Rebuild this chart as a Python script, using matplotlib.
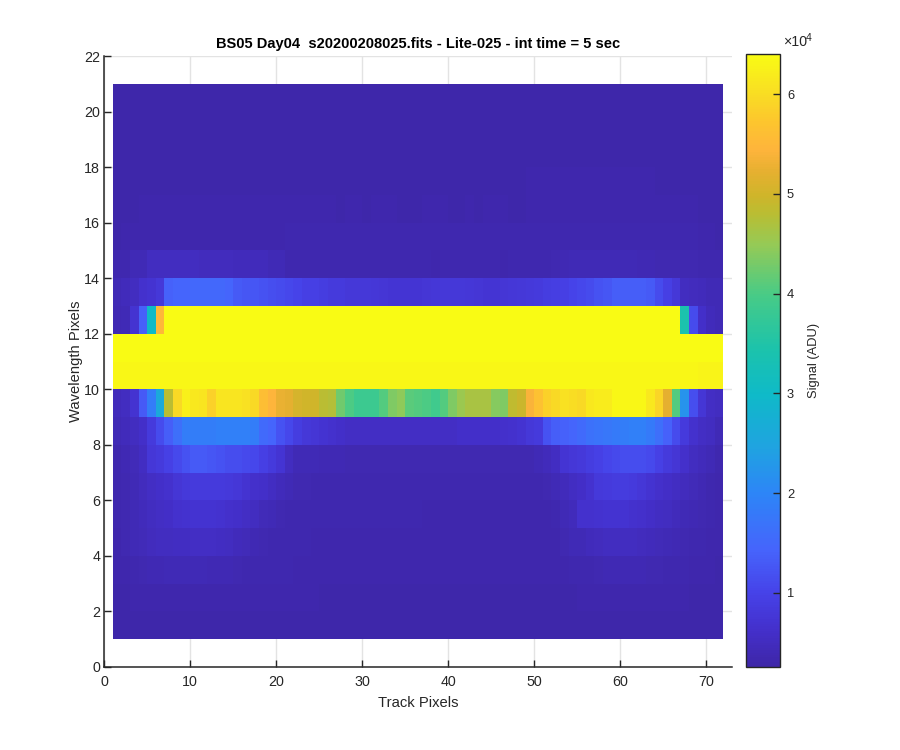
import matplotlib
matplotlib.use('Agg')
import matplotlib.pyplot as plt
from matplotlib.colors import LinearSegmentedColormap
import numpy as np

plt.rcParams['font.family'] = ['Liberation Sans', 'DejaVu Sans']

# signal per cell, in units of 1e4 ADU, one list per wavelength pixel (bottom up), track pixels 1..71
row_01 = [.29, .29, .29, .29, .29, .29, .29, .29, .29, .30, .30, .30, .30, .30, .30, .30, .30, .30, .30, .30,
          .30, .30, .30, .30, .30, .30, .30, .30, .30, .30, .30, .30, .30, .30, .30, .30, .30, .30, .30, .30,
          .30, .30, .30, .30, .30, .30, .30, .30, .30, .30, .30, .30, .30, .30, .30, .30, .30, .30, .30, .30,
          .30, .30, .30, .30, .30, .30, .30, .30, .30, .30, .30]
row_02 = [.30, .30, .31, .31, .31, .31, .32, .32, .32, .32, .32, .32, .32, .32, .32, .32, .31, .31, .31, .31,
          .31, .31, .31, .31, .30, .30, .30, .30, .30, .30, .30, .30, .30, .30, .30, .30, .30, .30, .30, .30,
          .30, .30, .30, .30, .30, .30, .30, .30, .30, .30, .30, .30, .30, .30, .31, .31, .31, .31, .31, .31,
          .31, .31, .31, .31, .31, .31, .31, .30, .30, .30, .30]
row_03 = [.31, .32, .34, .36, .38, .39, .40, .40, .40, .40, .40, .39, .39, .38, .36, .35, .33, .33, .33, .33,
          .33, .32, .32, .32, .31, .31, .31, .31, .31, .31, .31, .31, .31, .31, .31, .31, .31, .31, .31, .31,
          .31, .31, .31, .31, .31, .31, .31, .31, .31, .31, .32, .32, .32, .33, .34, .34, .37, .38, .38, .38,
          .38, .38, .36, .36, .34, .33, .33, .32, .32, .31, .30]
row_04 = [.32, .36, .40, .44, .48, .50, .51, .52, .54, .55, .55, .55, .52, .50, .47, .44, .39, .37, .35, .34,
          .33, .33, .33, .32, .32, .32, .32, .32, .32, .32, .32, .32, .32, .32, .32, .32, .31, .31, .31, .31,
          .31, .31, .31, .31, .31, .31, .31, .31, .31, .31, .31, .31, .37, .40, .41, .46, .49, .50, .50, .50,
          .50, .48, .46, .43, .41, .39, .37, .35, .33, .32, .31]
row_05 = [.33, .37, .40, .45, .50, .55, .58, .64, .67, .69, .69, .69, .68, .63, .60, .55, .50, .44, .41, .37,
          .34, .34, .34, .33, .33, .33, .33, .33, .33, .33, .33, .33, .33, .33, .33, .33, .32, .32, .32, .32,
          .32, .32, .32, .32, .32, .32, .32, .32, .32, .32, .32, .33, .42, .47, .64, .66, .68, .70, .70, .70,
          .66, .63, .59, .53, .50, .46, .41, .38, .36, .33, .31]
row_06 = [.33, .37, .42, .48, .55, .60, .66, .74, .82, .85, .85, .85, .84, .81, .77, .69, .63, .60, .52, .47,
          .40, .36, .36, .35, .35, .35, .34, .34, .34, .34, .34, .34, .34, .34, .34, .34, .33, .33, .33, .33,
          .33, .33, .33, .33, .33, .33, .33, .33, .33, .35, .36, .41, .47, .53, .59, .67, .81, .85, .87, .87,
          .84, .77, .69, .63, .58, .52, .49, .43, .38, .35, .32]
row_07 = [.35, .38, .43, .52, .76, .85, .97, 1.08, 1.2, 1.3, 1.3, 1.25, 1.2, 1.13, 1.13, 1.08, 1.05, .95, .84, .72,
          .50, .42, .40, .40, .38, .38, .38, .37, .37, .37, .37, .37, .37, .37, .37, .36, .36, .36, .36, .36,
          .36, .36, .36, .36, .36, .36, .36, .36, .36, .40, .45, .53, .72, .76, .81, .88, .97, 1.03, 1.08, 1.14,
          1.14, 1.14, 1.08, .96, .84, .75, .62, .50, .45, .40, .33]
row_08 = [.42, .45, .50, .60, .85, 1.1, 1.35, 1.6, 1.85, 1.85, 1.85, 1.85, 1.9, 1.9, 1.9, 1.9, 1.85, 1.55, 1.45, 1.2,
          1.05, .90, .80, .75, .70, .65, .60, .55, .55, .55, .55, .55, .55, .55, .55, .55, .55, .55, .55, .55,
          .60, .60, .60, .60, .60, .62, .65, .70, .80, .85, 1.2, 1.35, 1.4, 1.45, 1.55, 1.65, 1.7, 1.75, 1.8, 1.85,
          1.9, 1.9, 1.8, 1.6, 1.4, 1.1, .85, .65, .55, .50, .42]
row_09 = [.45, .50, .70, 1.3, 1.85, 2.6, 4.8, 5.95, 6.25, 6.15, 6.1, 5.85, 6.1, 6.1, 6.1, 6.05, 5.95, 5.6, 5.45, 5.25,
          5.2, 5.05, 5.0, 5.0, 4.8, 4.75, 4.25, 4.0, 3.85, 3.85, 3.85, 4.05, 4.35, 4.45, 4.1, 4.05, 4.0, 3.9, 4.05, 4.35,
          4.55, 4.65, 4.65, 4.65, 4.4, 4.35, 4.85, 4.95, 5.4, 5.65, 5.85, 5.95, 6.05, 6.0, 5.95, 6.15, 6.2, 6.2, 6.35, 6.35,
          6.35, 6.35, 6.15, 5.9, 5.2, 4.05, 2.2, 1.15, .75, .55, .50]
row_10 = [6.35, 6.35, 6.35, 6.35, 6.35, 6.35, 6.35, 6.35, 6.35, 6.35, 6.35, 6.35, 6.35, 6.35, 6.35, 6.35, 6.35, 6.35, 6.35, 6.35,
          6.35, 6.35, 6.35, 6.35, 6.35, 6.33, 6.33, 6.33, 6.33, 6.33, 6.33, 6.33, 6.33, 6.33, 6.33, 6.33, 6.33, 6.33, 6.33, 6.33,
          6.33, 6.33, 6.33, 6.33, 6.33, 6.33, 6.33, 6.33, 6.33, 6.33, 6.33, 6.33, 6.33, 6.33, 6.33, 6.33, 6.33, 6.33, 6.33, 6.33,
          6.33, 6.33, 6.33, 6.33, 6.33, 6.33, 6.33, 6.33, 6.3, 6.3, 6.3]
row_11 = [6.4, 6.4, 6.4, 6.4, 6.4, 6.4, 6.4, 6.4, 6.4, 6.4, 6.4, 6.4, 6.4, 6.4, 6.4, 6.4, 6.4, 6.4, 6.4, 6.4,
          6.4, 6.4, 6.4, 6.4, 6.4, 6.4, 6.4, 6.4, 6.4, 6.4, 6.4, 6.4, 6.4, 6.4, 6.4, 6.4, 6.4, 6.4, 6.4, 6.4,
          6.4, 6.4, 6.4, 6.4, 6.4, 6.4, 6.4, 6.4, 6.4, 6.4, 6.4, 6.4, 6.4, 6.4, 6.4, 6.4, 6.4, 6.4, 6.4, 6.4,
          6.4, 6.4, 6.4, 6.4, 6.4, 6.4, 6.4, 6.4, 6.4, 6.4, 6.4]
row_12 = [.38, .40, .70, 1.4, 3.0, 5.5, 6.4, 6.4, 6.4, 6.4, 6.4, 6.4, 6.4, 6.4, 6.4, 6.4, 6.4, 6.4, 6.4, 6.4,
          6.4, 6.4, 6.4, 6.4, 6.4, 6.4, 6.4, 6.4, 6.4, 6.4, 6.4, 6.4, 6.4, 6.4, 6.4, 6.4, 6.4, 6.4, 6.4, 6.4,
          6.4, 6.4, 6.4, 6.4, 6.4, 6.4, 6.4, 6.4, 6.4, 6.4, 6.4, 6.4, 6.4, 6.4, 6.4, 6.4, 6.4, 6.4, 6.4, 6.4,
          6.4, 6.4, 6.4, 6.4, 6.4, 6.4, 3.4, 1.1, .60, .45, .42]
row_13 = [.42, .45, .50, .65, .70, .80, 1.4, 1.45, 1.45, 1.5, 1.5, 1.5, 1.5, 1.45, 1.3, 1.25, 1.25, 1.2, 1.15, 1.1,
          1.05, 1.0, .95, .95, .90, .85, .85, .80, .80, .80, .78, .75, .72, .72, .72, .72, .75, .78, .80, .80,
          .80, .78, .75, .72, .72, .75, .78, .80, .82, .85, .88, .92, .95, 1.0, 1.05, 1.1, 1.2, 1.25, 1.35, 1.35,
          1.35, 1.35, 1.3, 1.1, .95, .80, .50, .48, .45, .42, .42]
row_14 = [.33, .35, .40, .42, .50, .50, .50, .50, .50, .50, .48, .48, .48, .48, .45, .45, .45, .45, .42, .42,
          .35, .35, .35, .34, .34, .34, .34, .34, .34, .34, .34, .34, .34, .34, .34, .34, .34, .31, .34, .34,
          .34, .34, .34, .34, .34, .31, .34, .34, .34, .34, .35, .36, .38, .40, .40, .40, .42, .42, .42, .42,
          .40, .38, .38, .37, .37, .36, .36, .36, .35, .35, .33]
row_15 = [.30, .31, .31, .32, .32, .32, .32, .32, .32, .32, .32, .32, .32, .32, .32, .32, .32, .32, .32, .32,
          .33, .33, .33, .33, .33, .33, .33, .33, .33, .33, .33, .33, .33, .33, .33, .33, .33, .33, .33, .33,
          .33, .33, .33, .33, .33, .33, .33, .33, .33, .33, .33, .33, .34, .34, .34, .34, .34, .34, .34, .34,
          .33, .33, .33, .33, .33, .33, .33, .33, .32, .31, .30]
row_16 = [.30, .30, .30, .31, .31, .31, .31, .31, .31, .31, .31, .31, .31, .31, .31, .31, .31, .31, .31, .31,
          .31, .31, .31, .31, .31, .31, .30, .31, .31, .30, .31, .31, .31, .30, .30, .30, .31, .31, .31, .30,
          .30, .31, .30, .31, .31, .31, .30, .30, .31, .31, .31, .31, .31, .31, .31, .31, .31, .31, .31, .31,
          .31, .31, .31, .31, .31, .31, .31, .31, .30, .30, .30]
row_17 = [.30, .30, .30, .30, .30, .30, .30, .30, .29, .30, .30, .30, .29, .30, .30, .30, .30, .29, .30, .30,
          .30, .30, .30, .30, .30, .30, .30, .30, .30, .30, .30, .30, .30, .30, .30, .30, .30, .30, .30, .30,
          .30, .30, .30, .30, .30, .30, .30, .30, .31, .31, .31, .31, .31, .31, .31, .31, .31, .31, .31, .31,
          .31, .31, .31, .30, .30, .30, .30, .30, .30, .30, .30]
row_18 = [.30, .30, .30, .30, .30, .30, .30, .30, .30, .30, .30, .30, .30, .30, .30, .30, .30, .30, .30, .30,
          .30, .30, .30, .30, .30, .30, .30, .30, .30, .30, .30, .30, .30, .30, .30, .30, .30, .30, .30, .30,
          .30, .30, .30, .30, .30, .30, .30, .30, .30, .30, .30, .30, .30, .30, .30, .30, .30, .30, .30, .30,
          .30, .30, .30, .30, .30, .30, .30, .30, .30, .30, .30]
row_19 = [.30, .30, .30, .30, .30, .30, .30, .30, .30, .30, .30, .30, .30, .30, .30, .30, .30, .30, .30, .30,
          .30, .30, .30, .30, .30, .30, .30, .30, .30, .30, .30, .30, .30, .30, .30, .30, .30, .30, .30, .30,
          .30, .30, .30, .30, .30, .30, .30, .30, .30, .30, .30, .30, .30, .30, .30, .30, .30, .30, .30, .30,
          .30, .30, .30, .30, .30, .30, .30, .30, .30, .30, .30]
row_20 = [.30, .30, .30, .30, .30, .30, .30, .30, .30, .30, .30, .30, .30, .30, .30, .30, .30, .30, .30, .30,
          .30, .30, .30, .30, .30, .30, .30, .30, .30, .30, .30, .30, .30, .30, .30, .30, .30, .30, .30, .30,
          .30, .30, .30, .30, .30, .30, .30, .30, .30, .30, .30, .30, .30, .30, .30, .30, .30, .30, .30, .30,
          .30, .30, .30, .30, .30, .30, .30, .30, .30, .30, .30]

signal = np.array([row_01, row_02, row_03, row_04, row_05, row_06, row_07, row_08, row_09, row_10,
                   row_11, row_12, row_13, row_14, row_15, row_16, row_17, row_18, row_19, row_20])
track_edges = np.arange(1, 73)
wave_edges = np.arange(1, 22)

xticks = [0, 10, 20, 30, 40, 50, 60, 70]
yticks = [0, 2, 4, 6, 8, 10, 12, 14, 16, 18, 20, 22]
cbar_ticks = [1, 2, 3, 4, 5, 6]

# parula as it looks in the colorbar
parula = LinearSegmentedColormap.from_list('parula', [
    (0.0, '#3e26a8'), (0.06, '#4430cc'), (0.119, '#4642e8'), (0.19, '#4664fc'),
    (0.282, '#2d85f7'), (0.36, '#1fa4e0'), (0.445, '#0fbac8'), (0.52, '#1cc3ab'),
    (0.608, '#48cb86'), (0.69, '#95ca56'), (0.74, '#b9bd33'), (0.77, '#cfb52a'),
    (0.81, '#e6b030'), (0.845, '#feb43c'), (0.89, '#fdc52e'), (0.935, '#f9dc24'),
    (1.0, '#f9fb14')], N=256)

W, H = 900, 750
dark = '#262626'
fig = plt.figure(figsize=(W / 100, H / 100), dpi=100)
ax = fig.add_axes([104.3 / W, 1 - 667 / H, (732 - 104.3) / W, (667 - 56) / H])
mesh = ax.pcolormesh(track_edges, wave_edges, signal, cmap=parula, vmin=0.255, vmax=6.4,
                     shading='flat', antialiased=False, zorder=3)
ax.set_xlim(0, 73)
ax.set_ylim(0, 22)
ax.set_xticks(xticks)
ax.set_yticks(yticks)
ax.grid(True, color='#e3e3e3', linewidth=1)
ax.set_axisbelow(True)
ax.spines['top'].set_visible(False)
ax.spines['right'].set_visible(False)
for side in ['left', 'bottom']:
    ax.spines[side].set_color(dark)
    ax.spines[side].set_linewidth(1.1)
    ax.spines[side].set_zorder(5)
ax.tick_params(direction='in', length=5, width=1, color=dark, labelcolor=dark, labelsize=10.3, pad=3)
ax.tick_params(axis='x', pad=5.5)
ax.set_xlabel('Track Pixels', fontsize=10.6, color=dark, labelpad=5)
ax.set_ylabel('Wavelength Pixels', fontsize=10.6, color=dark, labelpad=1)
ax.set_title('BS05 Day04  s20200208025.fits - Lite-025 - int time = 5 sec',
             fontsize=10.55, fontweight='bold', color='black', pad=6)

cax = fig.add_axes([746 / W, 1 - 667 / H, 34 / W, (667 - 54.3) / H])
cbar = fig.colorbar(mesh, cax=cax)
cbar.set_ticks(cbar_ticks)
cbar.ax.tick_params(direction='in', length=5, width=1, color=dark, labelcolor=dark, labelsize=9.3, pad=5)
cbar.outline.set_edgecolor(dark)
cbar.outline.set_linewidth(1)
cbar.set_label('Signal (ADU)', fontsize=9.3, color=dark, labelpad=10)

fig.text(783 / W, 1 - 46 / H, '×10', fontsize=10.2, color=dark, ha='left', va='baseline')
fig.text(806 / W, 1 - 41 / H, '4', fontsize=7.5, color=dark, ha='left', va='baseline')

fig.savefig('out.png', dpi=100)
